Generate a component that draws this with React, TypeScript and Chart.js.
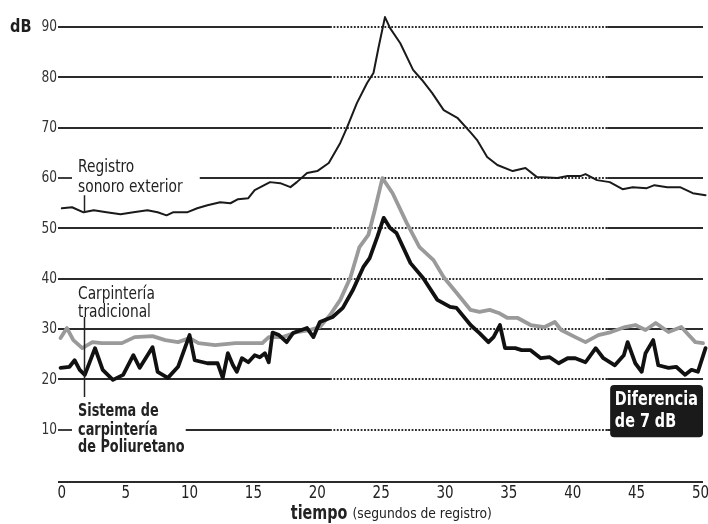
import React, { useEffect, useRef } from "react";
import { Chart, registerables } from "chart.js";

Chart.register(...registerables);

// ---- data (time in s, level in dB) ----
const yTickValues = [10, 20, 30, 40, 50, 60, 70, 80, 90];
const xTickValues = [0, 5, 10, 15, 20, 25, 30, 35, 40, 45, 50];

const exteriorSeries: [number, number][] = [
  [0, 54.0], [0.8, 54.2], [1.7, 53.2], [2.5, 53.6], [3.5, 53.2], [4.6, 52.8], [5.6, 53.2], [6.7, 53.6],
  [7.5, 53.2], [8.2, 52.6], [8.7, 53.2], [9.8, 53.2], [10.6, 54.0], [11.4, 54.6], [12.4, 55.2], [13.2, 55.0],
  [13.8, 55.8], [14.6, 56.0], [15.1, 57.6], [16.3, 59.2], [17.1, 59.0], [17.9, 58.2], [18.4, 59.2], [19.2, 61.0],
  [20.0, 61.4], [20.9, 63.0], [21.8, 67.0], [22.3, 69.9], [23.1, 74.9], [23.9, 78.9], [24.4, 80.9], [24.8, 86.0],
  [25.3, 92.0], [25.7, 89.8], [26.5, 86.8], [27.5, 81.5], [28.2, 79.5], [29.0, 76.9], [29.9, 73.5], [31.0, 71.9],
  [32.0, 69.1], [32.5, 67.6], [33.3, 64.2], [34.1, 62.6], [35.3, 61.4], [36.3, 62.0], [37.2, 60.2], [38.8, 60.0],
  [39.6, 60.4], [40.6, 60.4], [41.0, 60.8], [41.9, 59.6], [42.9, 59.2], [43.9, 57.8], [44.7, 58.2], [45.8, 58.0],
  [46.4, 58.6], [47.4, 58.2], [48.4, 58.2], [49.4, 57.0], [50.4, 56.6],
];

const tradicionalSeries: [number, number][] = [
  [-0.1, 28.2], [0.4, 30.2], [0.9, 27.8], [1.6, 26.2], [2.4, 27.4], [3.1, 27.2], [4.7, 27.2], [5.7, 28.4],
  [7.1, 28.6], [8.1, 27.8], [9.1, 27.4], [10.0, 28.2], [10.7, 27.2], [12.0, 26.8], [13.6, 27.2], [14.6, 27.2],
  [15.7, 27.2], [16.2, 28.4], [17.3, 28.4], [18.4, 29.4], [19.4, 29.8], [20.2, 30.4], [21.0, 32.8], [21.8, 35.8],
  [22.6, 40.3], [23.3, 46.3], [24.0, 48.7], [24.5, 53.6], [25.1, 60.0], [25.9, 57.0], [27.0, 51.1], [28.0, 46.3],
  [29.1, 43.7], [29.9, 40.3], [30.9, 37.2], [32.0, 33.8], [32.7, 33.4], [33.5, 33.8], [34.2, 33.2], [34.9, 32.2],
  [35.7, 32.2], [36.7, 30.8], [37.8, 30.4], [38.6, 31.4], [39.1, 29.8], [40.2, 28.4], [41.0, 27.4], [42.0, 28.8],
  [43.0, 29.4], [44.1, 30.4], [44.9, 30.8], [45.7, 29.8], [46.5, 31.2], [47.5, 29.4], [48.5, 30.4], [49.6, 27.4],
  [50.2, 27.2],
];

const poliuretanoSeries: [number, number][] = [
  [-0.1, 22.3], [0.6, 22.5], [1.0, 23.8], [1.4, 21.9], [1.8, 20.9], [2.6, 26.2], [3.2, 21.9], [4.0, 19.9],
  [4.8, 20.9], [5.6, 24.8], [6.1, 22.3], [7.1, 26.4], [7.5, 21.5], [8.3, 20.3], [9.1, 22.5], [10.0, 28.8],
  [10.4, 23.8], [11.4, 23.2], [12.2, 23.2], [12.6, 20.3], [13.0, 25.2], [13.4, 22.8], [13.7, 21.5], [14.1, 24.2],
  [14.6, 23.4], [15.1, 24.8], [15.5, 24.4], [15.9, 25.2], [16.2, 23.4], [16.5, 29.3], [17.0, 28.8], [17.6, 27.4],
  [18.1, 29.2], [19.2, 30.2], [19.7, 28.4], [20.2, 31.4], [21.2, 32.4], [22.0, 34.2], [22.8, 37.8], [23.6, 42.3],
  [24.1, 44.1], [24.7, 48.3], [25.2, 52.1], [25.7, 50.1], [26.2, 49.1], [27.3, 43.1], [28.3, 40.1], [29.4, 35.8],
  [30.4, 34.4], [30.9, 34.2], [32.0, 30.8], [32.7, 29.2], [33.4, 27.4], [33.8, 28.4], [34.3, 30.8], [34.7, 26.2],
  [35.5, 26.2], [36.0, 25.8], [36.7, 25.8], [37.5, 24.2], [38.2, 24.4], [38.9, 23.2], [39.6, 24.2], [40.2, 24.2],
  [41.0, 23.4], [41.8, 26.2], [42.4, 24.2], [43.3, 22.8], [44.0, 24.8], [44.3, 27.4], [44.9, 23.2], [45.4, 21.5],
  [45.7, 25.2], [46.3, 27.8], [46.7, 22.8], [47.5, 22.3], [48.1, 22.5], [48.8, 20.9], [49.3, 21.9], [49.8, 21.5],
  [50.4, 26.2],
];

const exteriorLabel = ["Registro", "sonoro exterior"];
const tradicionalLabel = ["Carpintería", "tradicional"];
const poliuretanoLabel = ["Sistema de", "carpintería", "de Poliuretano"];
const boxLabel = ["Diferencia", "de 7 dB"];
const yUnit = "dB";
const xTitle = "tiempo";
const xSubtitle = "(segundos de registro)";

const FONT = '"DejaVu Sans Condensed", "Liberation Sans Narrow", sans-serif';

const toPoints = (s: [number, number][]) => s.map(([x, y]) => ({ x, y }));

// draws real text, horizontally condensed
function txt(ctx: CanvasRenderingContext2D, s: string, x: number, y: number, font: string, sx = 0.88, align: CanvasTextAlign = "left") {
  ctx.save();
  ctx.font = font;
  ctx.textAlign = align;
  ctx.translate(x, y);
  ctx.scale(sx, 1);
  ctx.fillText(s, 0, 0);
  ctx.restore();
}

const decor = {
  id: "decor",
  beforeDatasetsDraw(chart: any) {
    const { ctx, chartArea: a, scales } = chart;
    const x = scales.x, y = scales.y;
    ctx.save();
    ctx.strokeStyle = "#2b2b2b";
    ctx.lineWidth = 1.8;
    const seg = (x1: number, x2: number, py: number, dashed: boolean) => {
      ctx.setLineDash(dashed ? [1.8, 1.6] : []);
      ctx.beginPath();
      ctx.moveTo(x1, py);
      ctx.lineTo(x2, py);
      ctx.stroke();
    };
    const dotStart = x.getPixelForValue(21);
    const dotEnd = x.getPixelForValue(42.7);
    for (const v of yTickValues) {
      const py = Math.round(y.getPixelForValue(v));
      let start = a.left;
      if (v === 60 || v === 10) {
        seg(a.left, a.left + 14, py, false);
        start = x.getPixelForValue(v === 60 ? 10.8 : 9.7);
      }
      seg(start, dotStart, py, false);
      seg(dotStart, dotEnd, py, true);
      seg(dotEnd, a.right, py, false);
    }
    ctx.setLineDash([]);
    ctx.lineWidth = 2;
    seg(a.left, a.right, a.bottom, false);

    ctx.textBaseline = "middle";
    // y tick labels
    ctx.fillStyle = "#333";
    for (const v of yTickValues) {
      txt(ctx, String(v), a.left - 1, y.getPixelForValue(v), `16px ${FONT}`, 0.85, "right");
    }
    ctx.fillStyle = "#1e1e1e";
    txt(ctx, yUnit, 10, y.getPixelForValue(90), `bold 17px ${FONT}`, 0.95);

    // x tick labels
    ctx.fillStyle = "#222";
    for (const v of xTickValues) {
      txt(ctx, String(v), x.getPixelForValue(v), a.bottom + 12, `17px ${FONT}`, 0.88, "center");
    }
    // x title
    ctx.textBaseline = "alphabetic";
    const f1 = `bold 19px ${FONT}`, f2 = `14px ${FONT}`;
    const s1 = 0.84, s2 = 0.98;
    ctx.font = f1;
    const w1 = ctx.measureText(xTitle + " ").width * s1;
    ctx.font = f2;
    const w2 = ctx.measureText(xSubtitle).width * s2;
    const cx = x.getPixelForValue(25.8);
    const left = cx - (w1 + w2) / 2;
    txt(ctx, xTitle, left, a.bottom + 37, f1, s1);
    txt(ctx, xSubtitle, left + w1, a.bottom + 36, f2, s2);
    ctx.restore();
  },
  afterDatasetsDraw(chart: any) {
    const { ctx, chartArea: a, scales } = chart;
    const x = scales.x, y = scales.y;
    ctx.save();
    // leaders
    ctx.strokeStyle = "#222";
    ctx.lineWidth = 1.5;
    const lx = Math.round(x.getPixelForValue(1.74)) + 0.5;
    ctx.beginPath();
    ctx.moveTo(lx, y.getPixelForValue(56.6));
    ctx.lineTo(lx, y.getPixelForValue(53.2));
    ctx.moveTo(lx, y.getPixelForValue(32.4));
    ctx.lineTo(lx, y.getPixelForValue(16.5));
    ctx.stroke();

    const tx = x.getPixelForValue(1.27);
    ctx.fillStyle = "#222";
    ctx.textBaseline = "middle";
    const fl = `17px ${FONT}`, fb = `bold 17px ${FONT}`;
    txt(ctx, exteriorLabel[0], tx, y.getPixelForValue(62.0), fl, 0.9);
    txt(ctx, exteriorLabel[1], tx, y.getPixelForValue(58.2), fl, 0.9);
    txt(ctx, tradicionalLabel[0], tx, y.getPixelForValue(36.8), fl, 0.9);
    txt(ctx, tradicionalLabel[1], tx, y.getPixelForValue(33.2), fl, 0.9);
    txt(ctx, poliuretanoLabel[0], tx, y.getPixelForValue(13.5), fb, 0.84);
    txt(ctx, poliuretanoLabel[1], tx, y.getPixelForValue(9.9), fb, 0.84);
    txt(ctx, poliuretanoLabel[2], tx, y.getPixelForValue(6.4), fb, 0.84);

    // difference box
    const bx1 = x.getPixelForValue(42.93);
    const bx2 = a.right;
    const by1 = y.getPixelForValue(18.9);
    const by2 = y.getPixelForValue(8.5);
    ctx.fillStyle = "#1a1a1a";
    ctx.beginPath();
    (ctx as any).roundRect(bx1, by1, bx2 - bx1, by2 - by1, 4);
    ctx.fill();
    ctx.fillStyle = "#fff";
    const fbox = `bold 19px ${FONT}`;
    txt(ctx, boxLabel[0], x.getPixelForValue(43.3), y.getPixelForValue(15.9), fbox, 0.84);
    txt(ctx, boxLabel[1], x.getPixelForValue(43.3), y.getPixelForValue(11.5), fbox, 0.84);
    ctx.restore();
  },
};

export default function App() {
  const ref = useRef<HTMLCanvasElement>(null);
  useEffect(() => {
    const chart = new Chart(ref.current!, {
      type: "line",
      data: {
        datasets: [
          {
            label: "Sistema de carpintería de Poliuretano",
            data: toPoints(poliuretanoSeries),
            borderColor: "#111",
            borderWidth: 3.8,
            clip: 8,
          },
          {
            label: "Carpintería tradicional",
            data: toPoints(tradicionalSeries),
            borderColor: "#9a9a9a",
            borderWidth: 3.8,
            clip: 8,
          },
          {
            label: "Registro sonoro exterior",
            data: toPoints(exteriorSeries),
            borderColor: "#1a1a1a",
            borderWidth: 2,
            clip: 8,
          },
        ] as any,
      },
      options: {
        animation: false,
        responsive: false,
        maintainAspectRatio: false,
        layout: { padding: { left: 58, right: 5, top: 2, bottom: 42 } },
        scales: {
          x: { type: "linear", min: -0.3, max: 50.2, display: false },
          y: { type: "linear", min: -0.4, max: 95, display: false },
        },
        elements: {
          point: { radius: 0 },
          line: { tension: 0, borderJoinStyle: "round", borderCapStyle: "round" },
        },
        plugins: { legend: { display: false }, tooltip: { enabled: false } },
      } as any,
      plugins: [decor],
    });
    return () => chart.destroy();
  }, []);
  return (
    <div style={{ position: "fixed", left: 0, top: 0, width: 708, height: 524, background: "#fff" }}>
      <canvas ref={ref} width={708} height={524} style={{ display: "block", width: 708, height: 524 }} />
    </div>
  );
}
